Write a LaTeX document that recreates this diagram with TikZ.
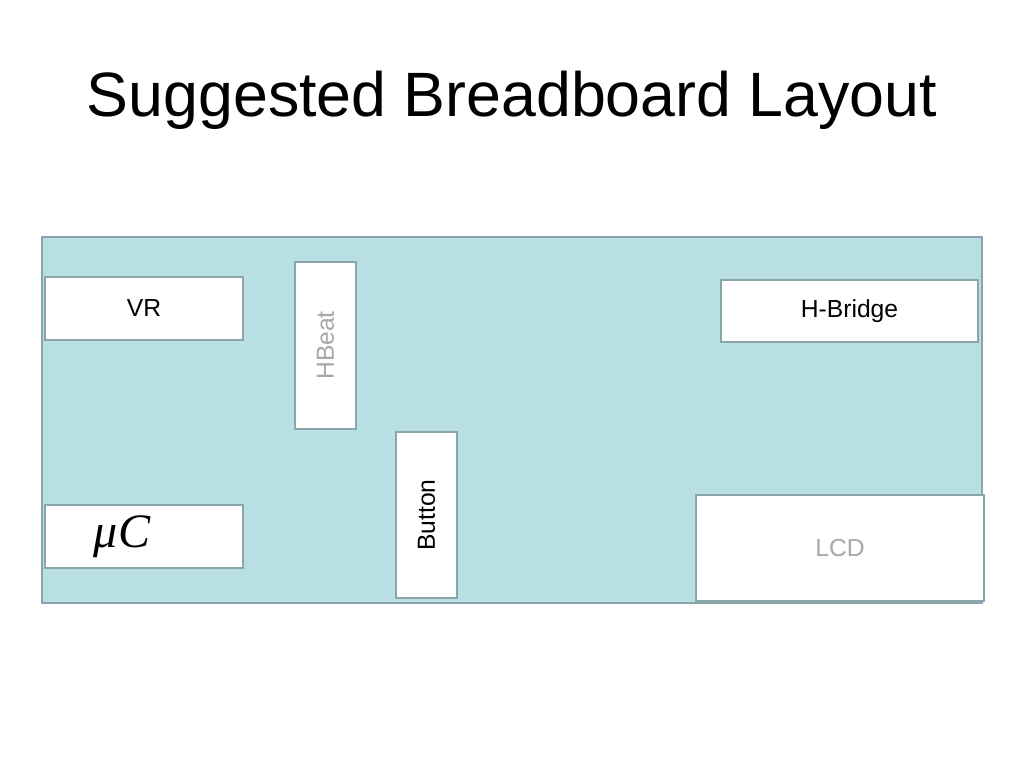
\documentclass[tikz,border=0pt]{standalone}
\usepackage{fontspec}
\setmainfont{Liberation Sans}
\newfontfamily\tms{Liberation Serif}
\definecolor{boardfill}{HTML}{B8DFE3}
\definecolor{boardline}{HTML}{8AA6AA}
\definecolor{graytext}{HTML}{A8A8A8}
\begin{document}
\begin{tikzpicture}[x=0.75pt,y=-0.75pt,
  box/.style={draw=boardline, line width=1.8pt, fill=white, inner sep=0pt,
    font=\fontsize{18.5pt}{20pt}\selectfont},
  board/.style={draw=boardline, line width=2pt, fill=boardfill, inner sep=0pt}]
\useasboundingbox (0,0) rectangle (1024,768);
\node[font=\fontsize{47pt}{52pt}\selectfont] (title) at (512,100) {Suggested Breadboard Layout};
\node[board, minimum width=705pt, minimum height=274.5pt] (brd) at (512,420) {};
\node[box, minimum width=148.5pt, minimum height=47.25pt] (vr) at (144,308.5) {VR};
\node[box, minimum width=45.75pt, minimum height=125.25pt, text=graytext] (hb) at (325.5,345.5) {\rotatebox{90}{HBeat}};
\node[box, minimum width=45.75pt, minimum height=124.5pt] (btn) at (426.5,515) {\rotatebox{90}{Button}};
\node[box, minimum width=148.5pt, minimum height=47.25pt] (uc) at (144,536.5) {\hspace*{-33pt}{\tms\itshape\fontsize{36pt}{38pt}\selectfont μC}};
\node[box, minimum width=192.75pt, minimum height=46.5pt] (hbr) at (849.5,311) {H-Bridge};
\node[box, minimum width=216pt, minimum height=79.5pt, text=graytext] (lcd) at (840,548) {LCD};
\end{tikzpicture}
\end{document}
